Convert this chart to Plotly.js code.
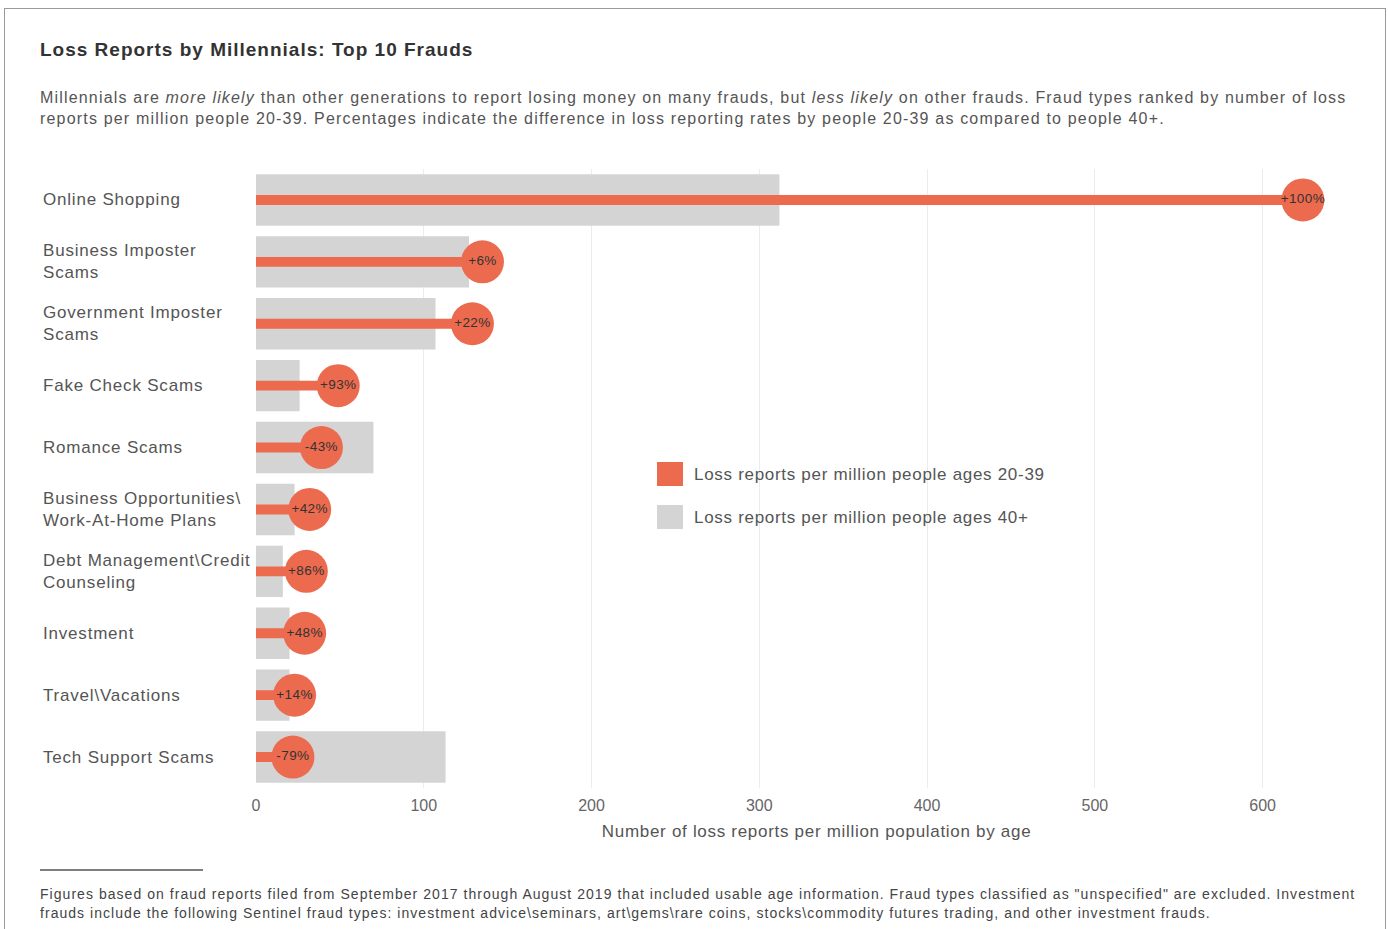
<!DOCTYPE html>
<html>
<head>
<meta charset="utf-8">
<script src="https://cdn.plot.ly/plotly-3.0.1.min.js"></script>
<style>
  html, body { margin: 0; padding: 0; background: #fff; }
  #chart { position: absolute; left: 0; top: 0; width: 1388px; height: 929px; }
  #frame { position: absolute; left: 4px; top: 8px; width: 1380px; height: 940px; border: 1px solid #9a9a9a; pointer-events: none; }
  #chart .annotation[data-index="0"] text { letter-spacing: 1px; }
  #chart .annotation[data-index="1"] text, #chart .annotation[data-index="2"] text { letter-spacing: 1.18px; }
  #chart .annotation[data-index="3"] text, #chart .annotation[data-index="4"] text { letter-spacing: 1.04px; }
  #chart .annotation[data-index="5"] text { letter-spacing: 0.7px; }
  #chart .annotation[data-index="6"] text, #chart .annotation[data-index="7"] text { letter-spacing: 0.7px; }
  #chart .annotation.ylab text { letter-spacing: 0.8px; }
  #chart .textpoint text { letter-spacing: 0.4px; }
</style>
</head>
<body>
<div id="chart"></div>
<div id="frame"></div>
<script>
// ---- data ----
const categories = [
  'Online Shopping', 'Business Imposter Scams', 'Government Imposter Scams',
  'Fake Check Scams', 'Romance Scams', 'Business Opportunities Work-At-Home Plans',
  'Debt Management Credit Counseling', 'Investment', 'Travel Vacations', 'Tech Support Scams'
];
const tickLabels = [
  'Online Shopping', 'Business Imposter<br>Scams', 'Government Imposter<br>Scams',
  'Fake Check Scams', 'Romance Scams', 'Business Opportunities\\<br>Work-At-Home Plans',
  'Debt Management\\Credit<br>Counseling', 'Investment', 'Travel\\Vacations', 'Tech Support Scams'
];
const ages40plus = [312, 127, 107, 26, 70, 23, 16, 20, 20, 113];
const ages20to39 = [624, 135, 129, 49, 39, 32, 30, 29, 23, 22];
const pctLabels = ['+100%', '+6%', '+22%', '+93%', '-43%', '+42%', '+86%', '+48%', '+14%', '-79%'];
const legendLabels = ['Loss reports per million people ages 20-39', 'Loss reports per million people ages 40+'];
const xTicks = [0, 100, 200, 300, 400, 500, 600];

const ORANGE = '#EC6A4E';
const GRAY = '#D4D4D4';
const FONT = 'Arial, "Liberation Sans", sans-serif';

const traces = [
  { type: 'bar', orientation: 'h', y: categories, x: ages40plus, width: 0.83,
    marker: { color: GRAY }, hoverinfo: 'x', name: legendLabels[1] },
  { type: 'bar', orientation: 'h', y: categories, x: ages20to39, width: 0.16,
    marker: { color: ORANGE }, hoverinfo: 'x', name: legendLabels[0] },
  { type: 'scatter', mode: 'markers+text', y: categories, x: ages20to39,
    text: pctLabels, textposition: 'middle center',
    textfont: { size: 13.5, color: '#333', family: FONT },
    marker: { size: 43, color: ORANGE, line: { width: 0 } },
    cliponaxis: false, hoverinfo: 'x' }
];

// plot area: x 256..1375, y 169..788
const L = 256, R = 1375, T = 169, B = 788;
const W = R - L, H = B - T;
const px = v => (v - L) / W;
const py = v => (B - v) / H;

const subtitleLines = [
  'Millennials are <i>more likely</i> than other generations to report losing money on many frauds, but <i>less likely</i> on other frauds. Fraud types ranked by number of loss',
  'reports per million people 20-39. Percentages indicate the difference in loss reporting rates by people 20-39 as compared to people 40+.'
];
const footLines = [
  'Figures based on fraud reports filed from September 2017 through August 2019 that included usable age information. Fraud types classified as "unspecified" are excluded. Investment',
  'frauds include the following Sentinel fraud types: investment advice\\seminars, art\\gems\\rare coins, stocks\\commodity futures trading, and other investment frauds.'
];

const leftNote = (text, x, y, size, color) => ({
  text: text, xref: 'paper', yref: 'paper', x: px(x), y: py(y), xanchor: 'left', yanchor: 'middle',
  align: 'left', showarrow: false, font: { size: size, color: color, family: FONT }
});

const annotations = [
  leftNote('<b>Loss Reports by Millennials: Top 10 Frauds</b>', 38, 50, 19, '#333'),
  leftNote(subtitleLines[0], 38, 98, 16, '#555'),
  leftNote(subtitleLines[1], 38, 119, 16, '#555'),
  leftNote(footLines[0], 38, 894, 14, '#444'),
  leftNote(footLines[1], 38, 913, 14, '#444'),
  { text: 'Number of loss reports per million population by age', xref: 'paper', yref: 'paper',
    x: px(816), y: py(831), xanchor: 'center', yanchor: 'middle', showarrow: false,
    font: { size: 17, color: '#555', family: FONT } },
  leftNote(legendLabels[0], 692, 474, 17, '#555'),
  leftNote(legendLabels[1], 692, 517, 17, '#555')
];
categories.forEach((c, i) => {
  annotations.push({ text: tickLabels[i], xref: 'paper', yref: 'y', x: px(41), y: c,
    xanchor: 'left', yanchor: 'middle', align: 'left', showarrow: false,
    font: { size: 17, color: '#555', family: FONT } });
});

const shapes = [
  { type: 'rect', xref: 'paper', yref: 'paper', x0: px(657), x1: px(683), y0: py(462), y1: py(486),
    fillcolor: ORANGE, line: { width: 0 } },
  { type: 'rect', xref: 'paper', yref: 'paper', x0: px(657), x1: px(683), y0: py(505), y1: py(529),
    fillcolor: GRAY, line: { width: 0 } },
  { type: 'line', xref: 'paper', yref: 'paper', x0: px(40), x1: px(203), y0: py(870), y1: py(870),
    line: { color: '#555', width: 1.3 } }
];

const layout = {
  width: 1388, height: 929,
  margin: { l: L, r: 1388 - R, t: T, b: 929 - B, pad: 0 },
  paper_bgcolor: '#fff', plot_bgcolor: '#fff',
  font: { family: FONT, color: '#555' },
  barmode: 'overlay', showlegend: false,
  xaxis: { range: [0, 667], tickvals: xTicks, ticktext: xTicks.map(String),
    showgrid: true, gridcolor: '#ececec', gridwidth: 1, zeroline: false, showline: false,
    ticks: '', ticklabelstandoff: 6, tickfont: { size: 16, color: '#666', family: FONT } },
  yaxis: { type: 'category', range: [9.5, -0.5], showticklabels: false, showgrid: false,
    zeroline: false, showline: false, ticks: '' },
  annotations: annotations,
  shapes: shapes
};

Plotly.newPlot('chart', traces, layout, { displayModeBar: false, staticPlot: true }).then(() => {
  document.querySelectorAll('#chart .annotation').forEach(g => {
    const idx = +g.getAttribute('data-index');
    if (idx >= 8) g.classList.add('ylab');
  });
});
</script>
</body>
</html>
